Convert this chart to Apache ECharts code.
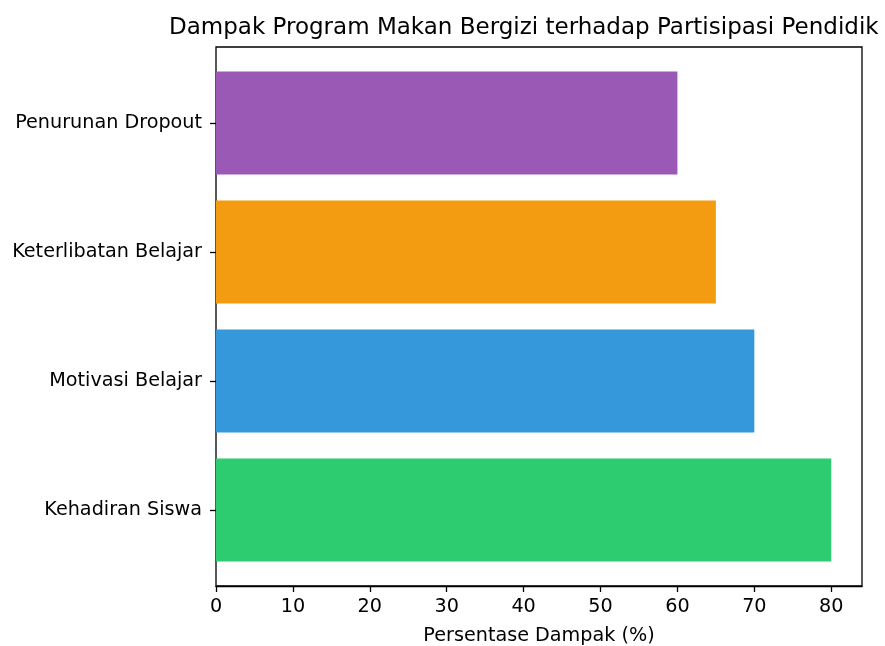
<!DOCTYPE html>
<html>
<head>
<meta charset="utf-8">
<script src="https://cdn.jsdelivr.net/npm/echarts@6/dist/echarts.min.js"></script>
<style>
    body { margin: 0; background: #fff; }
    #chart { width: 885px; height: 646px; }
</style>
</head>
<body>
<div id="chart"></div>
<script>
var categories = ['Kehadiran Siswa', 'Motivasi Belajar', 'Keterlibatan Belajar', 'Penurunan Dropout'];
var values = [80, 70, 65, 60];
var barColors = ['#2ecc71', '#3498db', '#f39c12', '#9b59b6'];
var xTicks = [0, 10, 20, 30, 40, 50, 60, 70, 80];

var font = 'DejaVu Sans';
var labelSize = 19.2;
var myChart = echarts.init(document.getElementById('chart'));

var barData = [];
for (var i = 0; i < values.length; i++) {
    barData.push({
        value: values[i],
        itemStyle: {color: barColors[i]}
    });
}

myChart.setOption({
    animation: false,
    title: {
        text: 'Dampak Program Makan Bergizi terhadap Partisipasi Pendidik',
        left: 164,
        top: 12,
        textStyle: {
            fontFamily: font,
            fontWeight: 'normal',
            fontSize: 23,
            color: '#000'
        }
    },
    grid: [
        // frame grid
        {left: 216, right: 23, top: 47, bottom: 60, outerBoundsMode: 'none', show: true, borderColor: '#000', borderWidth: 1.3},
        // bar grid, inset like matplotlib's margins
        {left: 216, right: 23, top: 58.5, bottom: 71.5, outerBoundsMode: 'none'}
    ],
    xAxis: [
        {
            gridIndex: 0,
            type: 'value',
            min: 0,
            max: 84,
            interval: 10,
            name: 'Persentase Dampak (%)',
            nameLocation: 'middle',
            nameGap: 41,
            nameTextStyle: {fontFamily: font, fontSize: labelSize, color: '#000'},
            axisLine: {show: true, lineStyle: {color: '#000', width: 1.3}},
            axisTick: {show: true, length: 6, customValues: xTicks, lineStyle: {color: '#000', width: 1.3}},
            axisLabel: {
                fontFamily: font, fontSize: labelSize, color: '#000', margin: 12,
                customValues: xTicks
            },
            splitLine: {show: false}
        },
        {
            gridIndex: 1,
            type: 'value',
            min: 0,
            max: 84,
            show: false
        }
    ],
    yAxis: [
        {
            gridIndex: 0,
            type: 'value',
            min: 0,
            max: 1,
            show: false
        },
        {
            gridIndex: 1,
            type: 'category',
            data: categories,
            axisLine: {show: false},
            axisTick: {show: true, alignWithLabel: true, length: 6, lineStyle: {color: '#000', width: 1.3}},
            axisLabel: {fontFamily: font, fontSize: labelSize, color: '#000', margin: 14}
        }
    ],
    series: [{
        type: 'bar',
        xAxisIndex: 1,
        yAxisIndex: 1,
        data: barData,
        barWidth: '80%'
    }]
});
</script>
</body>
</html>
